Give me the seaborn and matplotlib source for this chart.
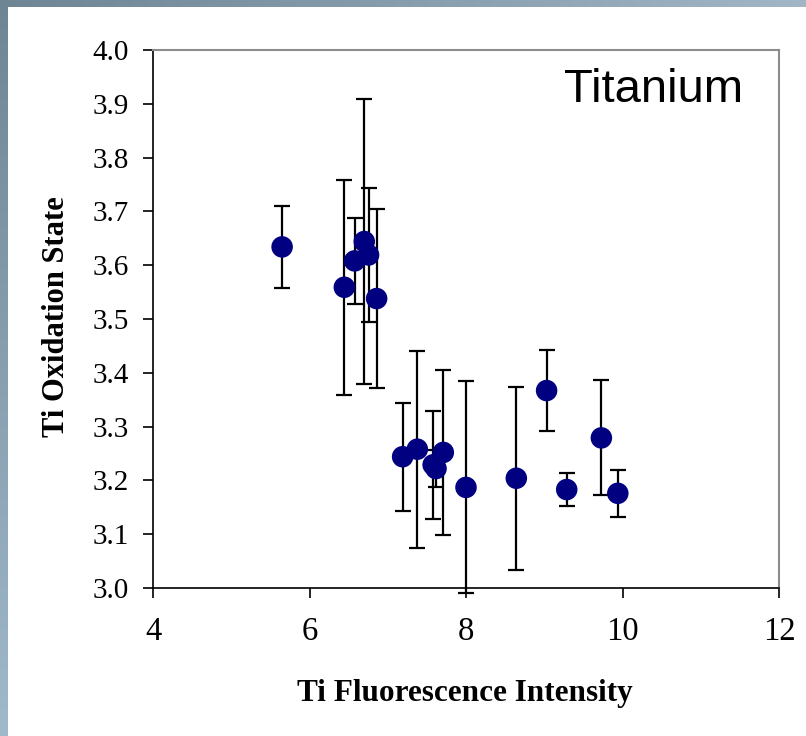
import numpy as np
import pandas as pd
import matplotlib
matplotlib.use("Agg")
import matplotlib.pyplot as plt
import seaborn as sns

# ---- data ----
intensity = [5.65, 6.445, 6.577, 6.70, 6.755, 6.858, 7.19, 7.378, 7.58, 7.617,
             7.71, 8.0, 8.643, 9.03, 9.287, 9.73, 9.94]
oxidation = [3.634, 3.559, 3.608, 3.644, 3.619, 3.538, 3.244, 3.258, 3.229, 3.222,
             3.252, 3.187, 3.204, 3.367, 3.183, 3.279, 3.176]
error = [0.076, 0.20, 0.08, 0.265, 0.125, 0.166, 0.10, 0.183, 0.10, 0.034,
         0.154, 0.197, 0.17, 0.076, 0.03, 0.107, 0.044]
x_ticks = [4, 6, 8, 10, 12]
y_ticks = [3.0, 3.1, 3.2, 3.3, 3.4, 3.5, 3.6, 3.7, 3.8, 3.9, 4.0]
x_label = "Ti Fluorescence Intensity"
y_label = "Ti Oxidation State"
title = "Titanium"

df = pd.DataFrame({"intensity": intensity, "oxidation": oxidation, "error": error})

sns.set_theme(style="white")
plt.rcParams['font.family'] = ['Liberation Serif', 'DejaVu Serif']
plt.rcParams['text.color'] = 'black'
plt.rcParams['xtick.color'] = 'black'
plt.rcParams['ytick.color'] = 'black'

W, H = 806, 736
fig = plt.figure(figsize=(W / 100, H / 100), dpi=100)
fig.patch.set_facecolor("white")

# ---- slide-like gradient border ----
bg = fig.add_axes([0, 0, 1, 1], zorder=-10)
img = np.ones((H, W, 3))
tl = np.array([0x6e, 0x85, 0x94]) / 255
tr = np.array([0xa2, 0xb6, 0xc5]) / 255
bl = np.array([0xa0, 0xb9, 0xcb]) / 255
t = np.linspace(0, 1, W)[:, None]
img[:7, :, :] = (tl * (1 - t) + tr * t)[None, :, :]
s = np.linspace(0, 1, H)[:, None]
img[:, :8, :] = (tl * (1 - s) + bl * s)[:, None, :]
bg.imshow(img, aspect='auto', extent=[0, 1, 0, 1], interpolation='nearest')
bg.axis('off')

# ---- main axes ----
ax = fig.add_axes([153 / W, 1 - 588 / H, (779 - 153) / W, (588 - 50) / H])
ax.set_facecolor("white")

cont = ax.errorbar(df["intensity"], df["oxidation"], yerr=df["error"], fmt='none',
                   ecolor='black', elinewidth=1.6, capsize=5.5, capthick=1.6, zorder=2)
for part in cont.get_children():
    part.set_clip_on(False)

sns.scatterplot(data=df, x="intensity", y="oxidation", color='#000080', s=240,
                edgecolor='none', linewidth=0, ax=ax, zorder=3, clip_on=False)

ax.set_xlim(4, 12)
ax.set_ylim(3.0, 4.0)
ax.set_xticks(x_ticks)
ax.set_xticklabels([str(v) for v in x_ticks])
ax.set_yticks(y_ticks)
ax.set_yticklabels([f"{v:.1f}" for v in y_ticks])
ax.grid(False)
ax.tick_params(axis='both', direction='out', length=7.2, width=1.2, colors='black',
               labelcolor='black', bottom=True, left=True, top=False, right=False)
ax.tick_params(axis='x', pad=13, labelsize=23.5)
ax.tick_params(axis='y', pad=10, labelsize=21)

for side in ['left', 'bottom']:
    ax.spines[side].set_color('black')
    ax.spines[side].set_linewidth(1.2)
for side in ['top', 'right']:
    ax.spines[side].set_color('#8c8c8c')
    ax.spines[side].set_linewidth(1.5)

ax.set_xlabel("")
ax.set_ylabel("")
fig.text(465 / W, 1 - 701 / H, x_label, ha='center', va='baseline', color='black',
         fontsize=22.5, fontweight='bold')
fig.text(57 / W, 1 - 317 / H, y_label, ha='center', va='center', rotation=90,
         color='black', fontsize=22, fontweight='bold')

ax.text((743 - 153) / 626, (588 - 102) / 538, title, transform=ax.transAxes,
        ha='right', va='baseline', fontsize=34, color='black',
        family=['Liberation Sans', 'DejaVu Sans'])

fig.savefig("out.png", dpi=100)
